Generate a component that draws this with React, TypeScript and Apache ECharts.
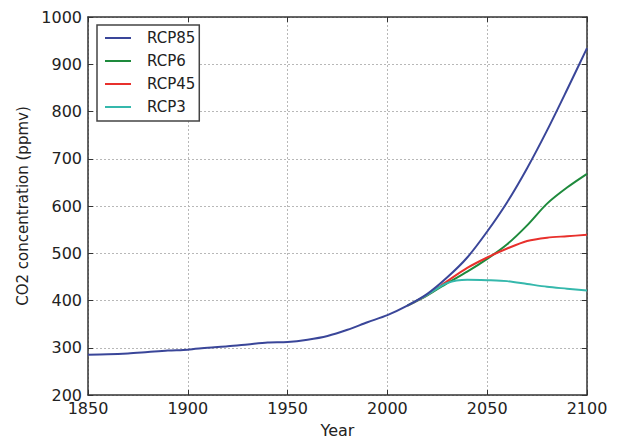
import React, { useEffect, useRef } from "react";
import * as echarts from "echarts";

const histYears = [1850, 1860, 1870, 1880, 1890, 1900, 1910, 1920, 1930, 1940, 1950, 1960, 1970, 1980, 1990, 2000];
const histValues = [285, 286, 288, 291, 294, 296, 300, 303, 307, 311, 312, 317, 325, 338, 354, 369];

const futureYears = [2010, 2020, 2030, 2040, 2050, 2060, 2070, 2080, 2090, 2100];
const rcp85 = [389, 414, 449, 491, 546, 608, 680, 760, 846, 934];
const rcp6 = [389, 411, 437, 461, 488, 519, 559, 605, 639, 668];
const rcp45 = [389, 412, 441, 469, 491, 510, 526, 533, 536, 539];
const rcp3 = [389, 412, 437, 444, 443, 441, 435, 429, 425, 421];

const seriesNames = ["RCP85", "RCP6", "RCP45", "RCP3"];
const seriesColors = ["#3a4699", "#1e8a3c", "#e8302c", "#35b8ac"];

const xTicks = [1850, 2100, 50];
const yTicks = [200, 1000, 100];

export default function App() {
  const ref = useRef<HTMLDivElement>(null);
  useEffect(() => {
    if (!ref.current) return;
    const chart = echarts.init(ref.current, null, { renderer: "svg" });
    const font = "DejaVu Sans";
    const pairs = (xs: number[], ys: number[]) => xs.map((x, i) => [x, ys[i]]);
    const fut = [rcp85, rcp6, rcp45, rcp3];
    const series: any[] = seriesNames.map((name, i) => ({
      name,
      type: "line",
      data: i === 0 ? pairs(histYears, histValues).concat(pairs(futureYears, rcp85)) : pairs(futureYears, fut[i]),
      smooth: 0.3,
      showSymbol: false,
      lineStyle: { width: 2, color: seriesColors[i] },
      itemStyle: { color: seriesColors[i] },
      z: i === 0 ? 5 : 3,
    }));
    const tickLabel = { fontFamily: font, fontSize: 16, color: "#222", formatter: (v: number) => String(v) };
    const frameLine = { show: true, lineStyle: { color: "#333", width: 1.5 } };
    const tick = { show: true, inside: true, length: 5, lineStyle: { color: "#333" } };
    const grid = { show: true, lineStyle: { color: "#b8b8b8", type: [2, 2], width: 1 } };
    chart.setOption({
      animation: false,
      backgroundColor: "#fff",
      grid: { left: 88, right: 34, top: 17, bottom: 39, containLabel: false },
      legend: {
        orient: "vertical",
        left: 97,
        top: 25,
        data: seriesNames,
        icon: "path://M0,0 L26,0 L26,2 L0,2 Z",
        itemWidth: 26,
        itemHeight: 2.5,
        itemGap: 8,
        padding: [5.5, 4, 6.5, 8],
        borderColor: "#444",
        borderWidth: 1.5,
        backgroundColor: "#fff",
        textStyle: { fontFamily: font, fontSize: 15, color: "#222", padding: [0, 0, 0, 11] },
      },
      xAxis: [
        {
          type: "value",
          min: xTicks[0],
          max: xTicks[1],
          interval: xTicks[2],
          name: "Year",
          nameLocation: "middle",
          nameGap: 27,
          nameTextStyle: { fontFamily: font, fontSize: 16, color: "#222" },
          axisLine: frameLine,
          axisTick: tick,
          axisLabel: { ...tickLabel, margin: 5 },
          splitLine: grid,
        },
        {
          type: "value",
          position: "top",
          min: xTicks[0],
          max: xTicks[1],
          interval: xTicks[2],
          axisLine: frameLine,
          axisTick: tick,
          axisLabel: { show: false },
          splitLine: { show: false },
        },
      ],
      yAxis: [
        {
          type: "value",
          min: yTicks[0],
          max: yTicks[1],
          interval: yTicks[2],
          name: "CO2 concentration (ppmv)",
          nameLocation: "middle",
          nameGap: 56,
          nameTextStyle: { fontFamily: font, fontSize: 15, color: "#222" },
          axisLine: frameLine,
          axisTick: tick,
          axisLabel: { ...tickLabel, margin: 6 },
          splitLine: grid,
        },
        {
          type: "value",
          position: "right",
          min: yTicks[0],
          max: yTicks[1],
          interval: yTicks[2],
          axisLine: frameLine,
          axisTick: tick,
          axisLabel: { show: false },
          splitLine: { show: false },
        },
      ],
      series,
    });
    return () => chart.dispose();
  }, []);
  return <div ref={ref} style={{ position: "fixed", left: 0, top: 0, width: 621, height: 443 }} />;
}
